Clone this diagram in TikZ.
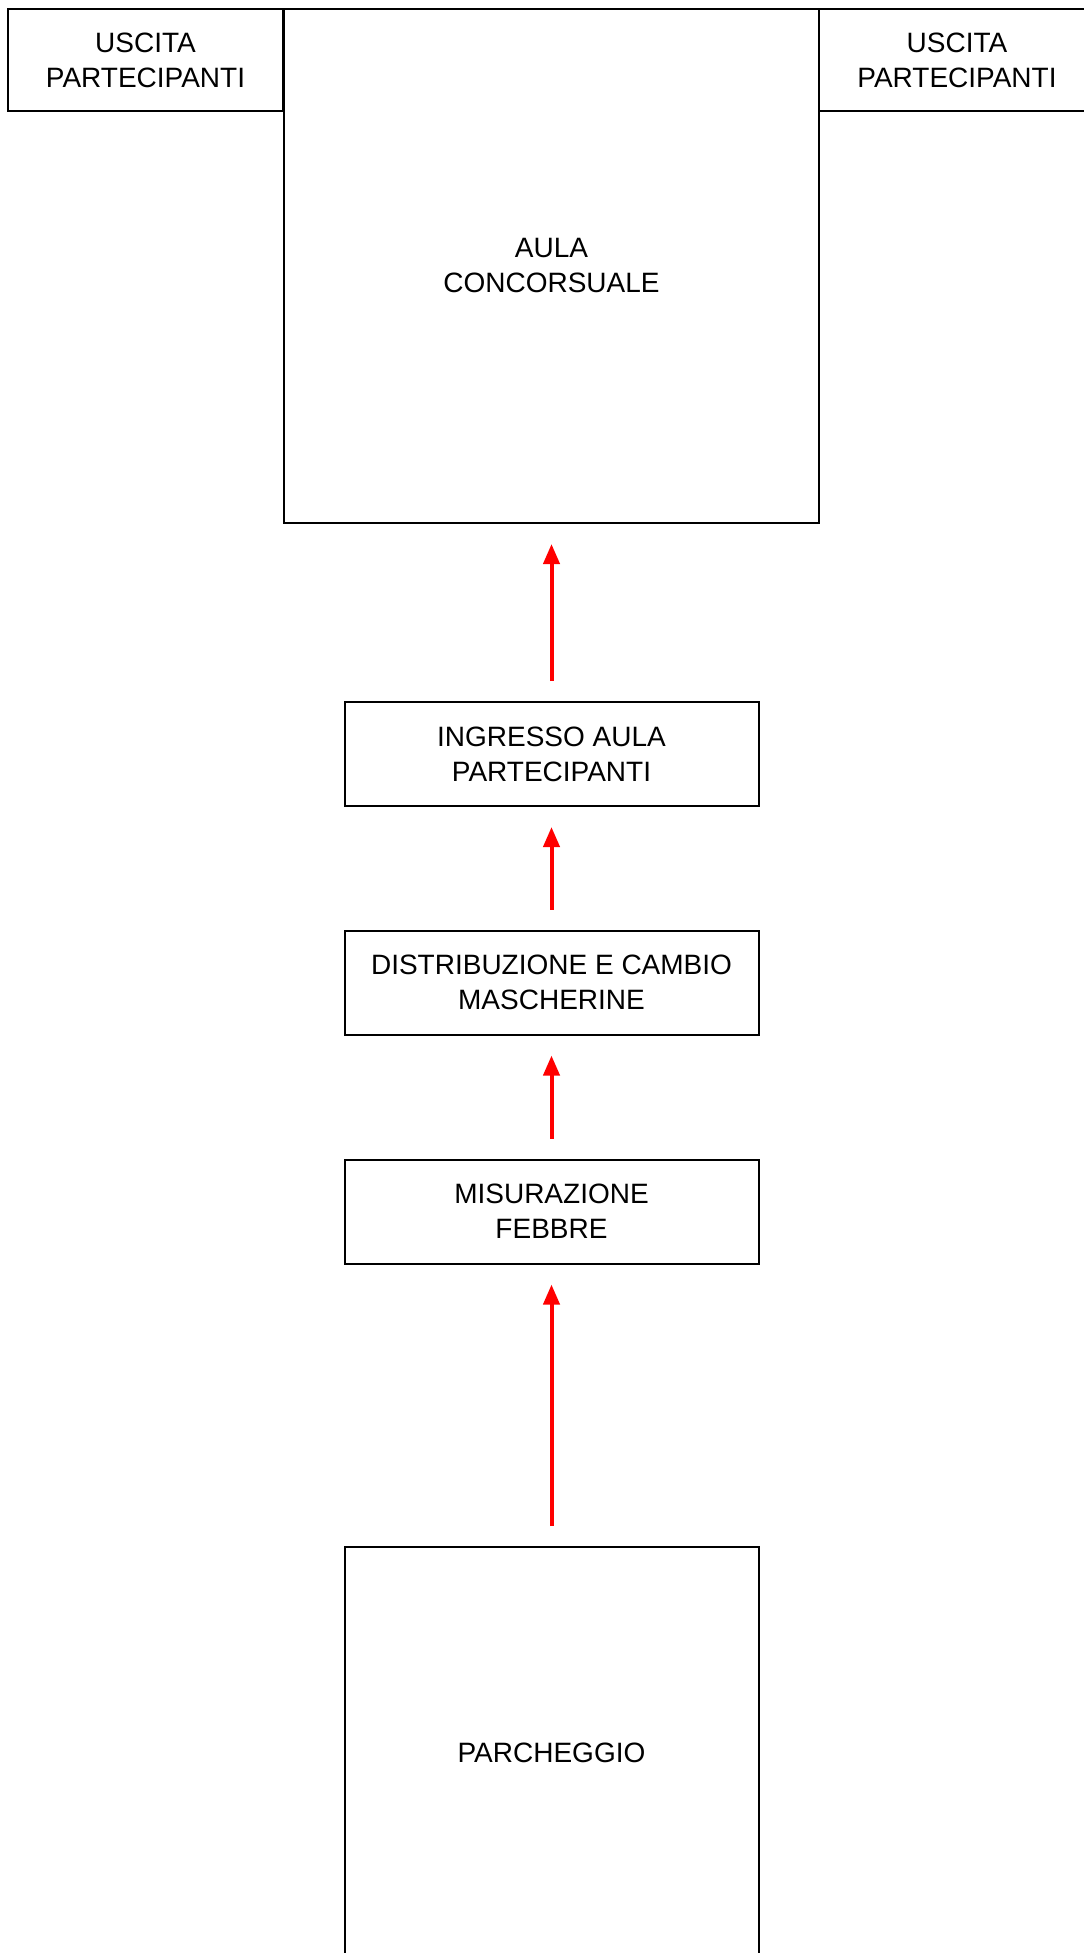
\documentclass[tikz,border=0pt]{standalone}
\usepackage{fontspec}
\setmainfont{Liberation Sans}
\usetikzlibrary{arrows.meta}
\tikzset{
  room/.style={draw, line width=1pt, align=center, inner sep=0pt,
    font=\fontsize{14}{17.5}\selectfont},
  wide/.style={room, minimum width=207pt, minimum height=52pt},
  flow/.style={red, line width=2pt, -{Triangle[length=10pt,width=8pt]},
    shorten >=10pt, shorten <=10pt}
}
\begin{document}
\begin{tikzpicture}[x=0.5pt,y=-0.5pt]
  \useasboundingbox (0,0) rectangle (1083,1953);
  % aula e uscite
  \node[room, minimum width=137.5pt, minimum height=51pt] (uscitaL) at (145.5,60) {USCITA\\PARTECIPANTI};
  \node[room, minimum width=267.5pt, minimum height=257pt] (aula) at (551.5,266) {AULA\\CONCORSUALE};
  \node[room, minimum width=138pt, minimum height=51pt] (uscitaR) at (957,60) {USCITA\\PARTECIPANTI};
  % percorso
  \node[wide] (ingresso) at (551.5,754) {INGRESSO AULA\\PARTECIPANTI};
  \node[wide] (masc) at (551.5,982.5) {DISTRIBUZIONE E CAMBIO\\MASCHERINE};
  \node[wide] (febbre) at (551.5,1211.5) {MISURAZIONE\\FEBBRE};
  \node[room, minimum width=207pt, minimum height=206pt] (park) at (551.5,1753) {PARCHEGGIO};
  \draw[flow] (park) -- (febbre);
  \draw[flow] (febbre) -- (masc);
  \draw[flow] (masc) -- (ingresso);
  \draw[flow] (ingresso) -- (aula);
\end{tikzpicture}
\end{document}
